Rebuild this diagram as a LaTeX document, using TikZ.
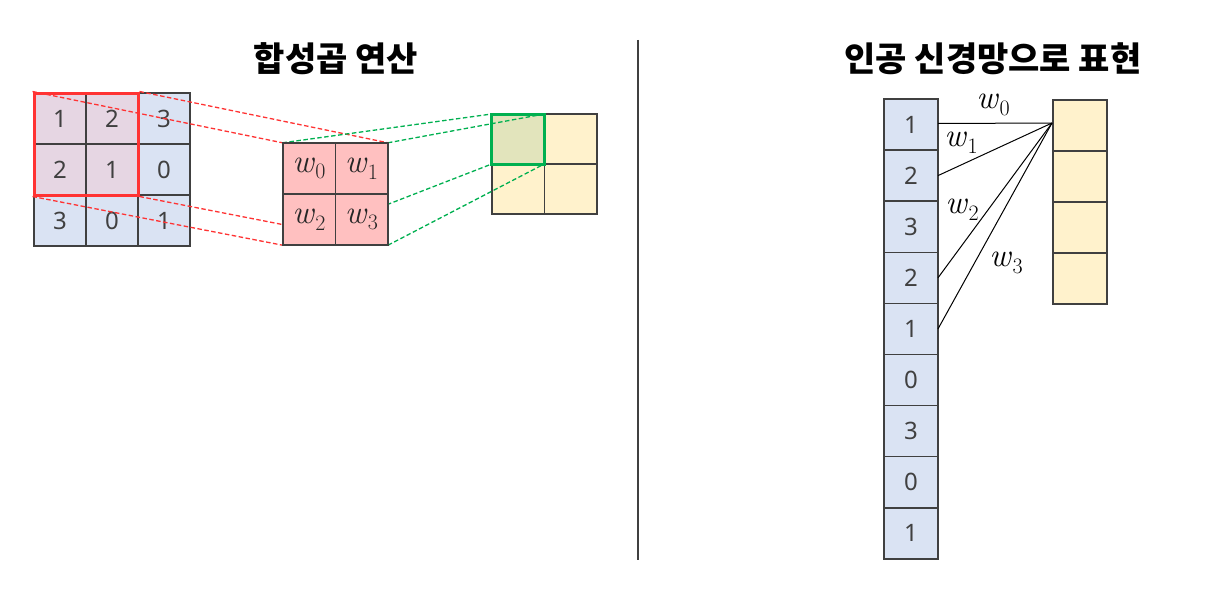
\documentclass[tikz,border=0pt]{standalone}
\usepackage{fontspec}
\newfontfamily\kr{Noto Sans CJK KR}
\newfontfamily\numfont{Noto Sans}
\usetikzlibrary{fit}
\pgfdeclarelayer{front}
\pgfsetlayers{main,front}
\newcommand{\wv}[1]{\textit{w}\kern0.5pt\raisebox{-0.2em}{\fontsize{22}{22}\selectfont #1}}
\definecolor{cellblue}{HTML}{DAE3F3}
\definecolor{cellmix}{HTML}{E6D6E3}
\definecolor{kpink}{HTML}{FFC0C0}
\definecolor{oyel}{HTML}{FFF2CC}
\definecolor{ogreen}{HTML}{E2E4BC}
\definecolor{gridline}{HTML}{404040}
\definecolor{rline}{HTML}{FF3333}
\definecolor{gline}{HTML}{00B050}
\tikzset{
  cellbox/.style={draw=gridline, line width=1.5pt, minimum width=52pt, minimum height=51pt, inner sep=0pt, outer sep=0pt,
    font=\numfont\fontsize{24}{28}\selectfont, text=gridline},
  wcell/.style={cellbox, fill=kpink, font=\fontsize{33}{36}\selectfont, text=black!85},
  vcell/.style={cellbox, minimum width=54pt, minimum height=51.1pt, fill=cellblue},
  ocell/.style={cellbox, minimum width=54pt, minimum height=51pt, fill=oyel},
  redframe/.style={draw=rline, line width=3pt, inner sep=0pt},
  greenframe/.style={draw=gline, line width=3pt, inner sep=0pt},
  rdash/.style={draw=rline, line width=1.3pt, dash pattern=on 4.5pt off 2.5pt},
  gdash/.style={draw=gline, line width=1.3pt, dash pattern=on 4.5pt off 2.5pt},
  wire/.style={draw=black, line width=1pt},
  wlabel/.style={font=\fontsize{33}{36}\selectfont, inner sep=0pt},
  title/.style={font=\kr\bfseries\fontsize{34}{38}\selectfont}
}
\begin{document}
\begin{tikzpicture}[x=1pt,y=-1pt]
\useasboundingbox (0,0) rectangle (1222,594);
% titles
\node[title] (t1) at (336,59) {합성곱 연산};
\node[title] (t2) at (993,59) {인공 신경망으로 표현};
% divider
\coordinate (dtop) at (638,40);
\coordinate (dbot) at (638,560);
\draw[draw=gridline, line width=1.5pt] (dtop) -- (dbot);
% input 3x3
\node[cellbox, fill=cellmix] (a00) at (60,118.5) {1};
\node[cellbox, fill=cellmix] (a01) at (112,118.5) {2};
\node[cellbox, fill=cellblue] (a02) at (164,118.5) {3};
\node[cellbox, fill=cellmix] (a10) at (60,169.5) {2};
\node[cellbox, fill=cellmix] (a11) at (112,169.5) {1};
\node[cellbox, fill=cellblue] (a12) at (164,169.5) {0};
\node[cellbox, fill=cellblue] (a20) at (60,220.5) {3};
\node[cellbox, fill=cellblue] (a21) at (112,220.5) {0};
\node[cellbox, fill=cellblue] (a22) at (164,220.5) {1};
\node[redframe, fit=(a00)(a11)] (rbox) {};
% output 2x2
\node[cellbox, minimum width=52.5pt, minimum height=50pt, fill=ogreen] (o00) at (518,139) {};
\node[cellbox, minimum width=52.5pt, minimum height=50pt, fill=oyel] (o01) at (570.5,139) {};
\node[cellbox, minimum width=52.5pt, minimum height=50pt, fill=oyel] (o10) at (518,189) {};
\node[cellbox, minimum width=52.5pt, minimum height=50pt, fill=oyel] (o11) at (570.5,189) {};
% kernel (front)
\begin{pgfonlayer}{front}
\node[wcell, minimum width=52.5pt] (k00) at (309,168.5) {\wv{0}};
\node[wcell, minimum width=52.5pt] (k01) at (361.5,168.5) {\wv{1}};
\node[wcell, minimum width=52.5pt] (k10) at (309,219.5) {\wv{2}};
\node[wcell, minimum width=52.5pt] (k11) at (361.5,219.5) {\wv{3}};
\end{pgfonlayer}
\node[inner sep=0pt, fit=(k00)(k11)] (kbox) {};
% red dashed
\draw[rdash] (rbox.north west) -- (kbox.north west);
\draw[rdash] (rbox.north east) -- (kbox.north east);
\draw[rdash] (rbox.south west) -- (kbox.south west);
\draw[rdash] (rbox.south east) -- (kbox.south east);
% green dashed
\draw[gdash] (kbox.north west) -- (o00.north west);
\draw[gdash] (kbox.north east) -- (o00.north east);
\draw[gdash] (kbox.south west) -- (o00.south west);
\draw[gdash] (kbox.south east) -- (o00.south east);
\node[greenframe, fit=(o00)] (gbox) {};
% right: flattened input
\node[vcell] (v1) at (911,124.5) {1};
\node[vcell] (v2) at (911,175.6) {2};
\node[vcell] (v3) at (911,226.7) {3};
\node[vcell] (v4) at (911,277.8) {2};
\node[vcell] (v5) at (911,328.9) {1};
\node[vcell] (v6) at (911,380.0) {0};
\node[vcell] (v7) at (911,431.1) {3};
\node[vcell] (v8) at (911,482.2) {0};
\node[vcell] (v9) at (911,533.3) {1};
% right: output column
\node[ocell] (u1) at (1080,125.5) {};
\node[ocell] (u2) at (1080,176.5) {};
\node[ocell] (u3) at (1080,227.5) {};
\node[ocell] (u4) at (1080,278.5) {};
\coordinate (hub) at (1052,123);
\draw[wire] (v1.east) ++(0,-1) -- (hub);
\draw[wire] (v2.east) -- (hub);
\draw[wire] (v4.east) -- (hub);
\draw[wire] (v5.east) -- (hub);
\node[wlabel] (l0) at (993,105) {\wv{0}};
\node[wlabel] (l1) at (961,143) {\wv{1}};
\node[wlabel] (l2) at (962,210) {\wv{2}};
\node[wlabel] (l3) at (1006,263) {\wv{3}};
\end{tikzpicture}
\end{document}
